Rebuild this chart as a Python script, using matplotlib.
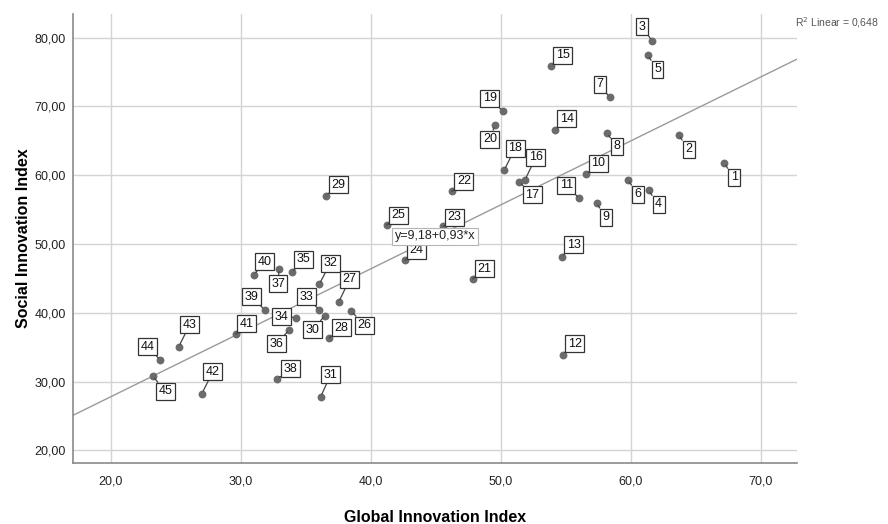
import matplotlib
matplotlib.use("Agg")
from matplotlib import pyplot as plt
from matplotlib.ticker import FuncFormatter

plt.rcParams['font.family'] = ['Liberation Sans', 'DejaVu Sans']

# data: country rank id, Global Innovation Index, Social Innovation Index
ids = list(range(1, 46))
gii = [67.20, 63.69, 61.66, 61.38, 61.30, 59.79, 58.38, 58.18, 57.38, 56.60,
       56.05, 54.77, 54.69, 54.18, 53.87, 51.87, 51.43, 50.28, 50.15, 49.56,
       47.85, 46.25, 45.60, 42.66, 41.23, 38.51, 37.54, 36.82, 36.54, 36.51,
       36.15, 36.05, 36.05, 34.23, 33.92, 33.74, 32.95, 32.82, 31.85, 31.02,
       29.64, 27.02, 25.23, 23.82, 23.23]
sii = [61.73, 65.85, 79.53, 57.80, 77.45, 59.30, 71.34, 66.10, 55.95, 60.17,
       56.64, 33.93, 48.14, 66.58, 75.85, 59.30, 59.05, 60.76, 69.34, 67.30,
       44.94, 57.66, 52.60, 47.66, 52.75, 40.23, 41.54, 36.35, 57.02, 39.60,
       27.76, 44.16, 40.42, 39.31, 45.86, 37.51, 46.39, 30.38, 40.42, 45.52,
       36.93, 28.25, 35.04, 33.14, 30.77]
intercept, slope = 9.18, 0.93
r2 = "0,648"

# label offsets in pixels (right, up) for each point label
offsets = [(10, -14), (10, -14), (-10, 14), (10, -14), (10, -14), (10, -14),
           (-10, 13), (10, -13), (9, -14), (12, 11), (-13, 13), (12, 11),
           (12, 12), (12, 11), (12, 11), (11, 23), (13, -13), (11, 22),
           (-13, 13), (-5, -14), (12, 10), (12, 10), (11, 9), (11, 10),
           (12, 10), (13, -14), (11, 23), (12, 10), (13, 11), (-13, -14),
           (10, 22), (11, 21), (-13, 13), (-14, 1), (12, 13), (-13, -14),
           (-1, -15), (13, 10), (-13, 13), (11, 13), (11, 10), (11, 22),
           (11, 22), (-13, 13), (13, -15)]

fig = plt.figure(figsize=(8.88, 5.24), dpi=100)
ax = fig.add_axes([0.0822, 0.1164, 0.8153, 0.8569])

xmin, xmax = 17.1, 72.8
ymin, ymax = 18.15, 83.45
ax.set_xlim(xmin, xmax)
ax.set_ylim(ymin, ymax)

ax.set_xticks([20, 30, 40, 50, 60, 70])
ax.set_yticks([20, 30, 40, 50, 60, 70, 80])
ax.xaxis.set_major_formatter(FuncFormatter(lambda v, p: f"{v:.1f}".replace('.', ',')))
ax.yaxis.set_major_formatter(FuncFormatter(lambda v, p: f"{v:.2f}".replace('.', ',')))
ax.tick_params(length=0, labelsize=9, colors='#222222')
ax.tick_params(axis='x', pad=9)
ax.tick_params(axis='y', pad=5)
ax.grid(True, color='#d4d4d4', lw=1)
ax.set_axisbelow(True)

for s in ['top', 'right']:
    ax.spines[s].set_visible(False)
for s in ['left', 'bottom']:
    ax.spines[s].set_color('#8a8a8a')
    ax.spines[s].set_linewidth(1.2)

# fit line
ax.plot([xmin, xmax], [intercept + slope * xmin, intercept + slope * xmax],
        color='#9a9a9a', lw=1, zorder=2)

ax.scatter(gii, sii, s=32, color='#6b6b6b', zorder=3, linewidths=0)

for i, x, y, off in zip(ids, gii, sii, offsets):
    ax.annotate(str(i), (x, y), xytext=off, textcoords='offset pixels',
                ha='center', va='center', fontsize=9, color='#111111', zorder=4,
                bbox=dict(boxstyle='square,pad=0.2', fc='white', ec='#333333', lw=0.9),
                arrowprops=dict(arrowstyle='-', color='#444444', lw=0.9,
                                shrinkA=0, shrinkB=2))

ax.text(44.97, 51.1, f"y={intercept:.2f}+{slope:.2f}*x".replace('.', ','),
        ha='center', va='center', fontsize=9, color='#222222', zorder=5,
        bbox=dict(boxstyle='square,pad=0.2', fc='white', ec='#b5b5b5', lw=0.8))

fig.text(0.895, 0.956, "R$^2$ Linear = " + r2, fontsize=7.5, color='#555555',
         ha='left', va='center')

ax.set_xlabel("Global Innovation Index", fontsize=11.5, fontweight='bold', labelpad=16)
ax.set_ylabel("Social Innovation Index", fontsize=11.5, fontweight='bold', labelpad=3)

plt.savefig('out.png', dpi=100)
